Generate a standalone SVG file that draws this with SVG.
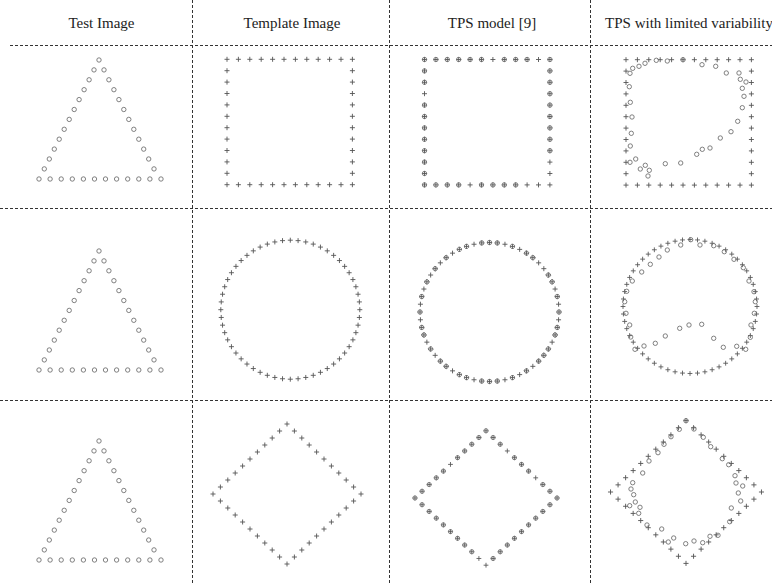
<svg xmlns="http://www.w3.org/2000/svg" xmlns:xlink="http://www.w3.org/1999/xlink" width="772" height="584" viewBox="0 0 772 584">
<style>
.pl{stroke:#555;stroke-width:0.9;fill:none}
.ci{stroke:#6a6a6a;stroke-width:0.85;fill:none}
.gl{stroke:#333;stroke-width:1;stroke-dasharray:3 2;fill:none}
.hd{font-family:"Liberation Serif","Times New Roman",serif;font-size:15px;fill:#222;text-anchor:middle}
</style>
<defs>
<path id="p" class="pl" d="M-2.5 0H2.5M0 -2.5V2.5"/>
<circle id="c" class="ci" r="2.2"/>
<g id="tri">
<use href="#c" x="0" y="0"/>
<use href="#c" x="-5" y="9.9"/><use href="#c" x="-9.9" y="19.8"/><use href="#c" x="-14.9" y="29.7"/><use href="#c" x="-19.9" y="39.6"/><use href="#c" x="-24.8" y="49.5"/><use href="#c" x="-29.8" y="59.4"/><use href="#c" x="-34.8" y="69.3"/><use href="#c" x="-39.8" y="79.2"/><use href="#c" x="-44.7" y="89.1"/><use href="#c" x="-49.7" y="99"/><use href="#c" x="-54.7" y="108.9"/>
<use href="#c" x="5" y="9.9"/><use href="#c" x="9.9" y="19.8"/><use href="#c" x="14.9" y="29.7"/><use href="#c" x="19.9" y="39.6"/><use href="#c" x="24.8" y="49.5"/><use href="#c" x="29.8" y="59.4"/><use href="#c" x="34.8" y="69.3"/><use href="#c" x="39.8" y="79.2"/><use href="#c" x="44.7" y="89.1"/><use href="#c" x="49.7" y="99"/><use href="#c" x="55" y="108.9"/>
<use href="#c" x="-60" y="119"/><use href="#c" x="-48.9" y="119"/><use href="#c" x="-37.8" y="119"/><use href="#c" x="-26.7" y="119"/><use href="#c" x="-15.6" y="119"/><use href="#c" x="-4.5" y="119"/><use href="#c" x="6.5" y="119"/><use href="#c" x="17.6" y="119"/><use href="#c" x="28.7" y="119"/><use href="#c" x="39.8" y="119"/><use href="#c" x="50.9" y="119"/><use href="#c" x="62" y="119"/>
</g>
<g id="sq">
<use href="#p" x="0" y="0"/><use href="#p" x="11.4" y="0"/><use href="#p" x="22.8" y="0"/><use href="#p" x="34.2" y="0"/><use href="#p" x="45.6" y="0"/><use href="#p" x="57" y="0"/><use href="#p" x="68.4" y="0"/><use href="#p" x="79.8" y="0"/><use href="#p" x="91.2" y="0"/><use href="#p" x="102.6" y="0"/><use href="#p" x="114" y="0"/><use href="#p" x="125.4" y="0"/>
<use href="#p" x="0" y="125.4"/><use href="#p" x="11.4" y="125.4"/><use href="#p" x="22.8" y="125.4"/><use href="#p" x="34.2" y="125.4"/><use href="#p" x="45.6" y="125.4"/><use href="#p" x="57" y="125.4"/><use href="#p" x="68.4" y="125.4"/><use href="#p" x="79.8" y="125.4"/><use href="#p" x="91.2" y="125.4"/><use href="#p" x="102.6" y="125.4"/><use href="#p" x="114" y="125.4"/><use href="#p" x="125.4" y="125.4"/>
<use href="#p" x="0" y="11.4"/><use href="#p" x="0" y="22.8"/><use href="#p" x="0" y="34.2"/><use href="#p" x="0" y="45.6"/><use href="#p" x="0" y="57"/><use href="#p" x="0" y="68.4"/><use href="#p" x="0" y="79.8"/><use href="#p" x="0" y="91.2"/><use href="#p" x="0" y="102.6"/><use href="#p" x="0" y="114"/>
<use href="#p" x="125.4" y="11.4"/><use href="#p" x="125.4" y="22.8"/><use href="#p" x="125.4" y="34.2"/><use href="#p" x="125.4" y="45.6"/><use href="#p" x="125.4" y="57"/><use href="#p" x="125.4" y="68.4"/><use href="#p" x="125.4" y="79.8"/><use href="#p" x="125.4" y="91.2"/><use href="#p" x="125.4" y="102.6"/><use href="#p" x="125.4" y="114"/>
</g>
<g id="ring">
<use href="#p" transform="rotate(0) translate(0 -69.5) rotate(0)"/>
<use href="#p" transform="rotate(6.43) translate(0 -69.5) rotate(-6.43)"/>
<use href="#p" transform="rotate(12.86) translate(0 -69.5) rotate(-12.86)"/>
<use href="#p" transform="rotate(19.29) translate(0 -69.5) rotate(-19.29)"/>
<use href="#p" transform="rotate(25.71) translate(0 -69.5) rotate(-25.71)"/>
<use href="#p" transform="rotate(32.14) translate(0 -69.5) rotate(-32.14)"/>
<use href="#p" transform="rotate(38.57) translate(0 -69.5) rotate(-38.57)"/>
<use href="#p" transform="rotate(45) translate(0 -69.5) rotate(-45)"/>
<use href="#p" transform="rotate(51.43) translate(0 -69.5) rotate(-51.43)"/>
<use href="#p" transform="rotate(57.86) translate(0 -69.5) rotate(-57.86)"/>
<use href="#p" transform="rotate(64.29) translate(0 -69.5) rotate(-64.29)"/>
<use href="#p" transform="rotate(70.71) translate(0 -69.5) rotate(-70.71)"/>
<use href="#p" transform="rotate(77.14) translate(0 -69.5) rotate(-77.14)"/>
<use href="#p" transform="rotate(83.57) translate(0 -69.5) rotate(-83.57)"/>
<use href="#p" transform="rotate(90) translate(0 -69.5) rotate(-90)"/>
<use href="#p" transform="rotate(96.43) translate(0 -69.5) rotate(-96.43)"/>
<use href="#p" transform="rotate(102.86) translate(0 -69.5) rotate(-102.86)"/>
<use href="#p" transform="rotate(109.29) translate(0 -69.5) rotate(-109.29)"/>
<use href="#p" transform="rotate(115.71) translate(0 -69.5) rotate(-115.71)"/>
<use href="#p" transform="rotate(122.14) translate(0 -69.5) rotate(-122.14)"/>
<use href="#p" transform="rotate(128.57) translate(0 -69.5) rotate(-128.57)"/>
<use href="#p" transform="rotate(135) translate(0 -69.5) rotate(-135)"/>
<use href="#p" transform="rotate(141.43) translate(0 -69.5) rotate(-141.43)"/>
<use href="#p" transform="rotate(147.86) translate(0 -69.5) rotate(-147.86)"/>
<use href="#p" transform="rotate(154.29) translate(0 -69.5) rotate(-154.29)"/>
<use href="#p" transform="rotate(160.71) translate(0 -69.5) rotate(-160.71)"/>
<use href="#p" transform="rotate(167.14) translate(0 -69.5) rotate(-167.14)"/>
<use href="#p" transform="rotate(173.57) translate(0 -69.5) rotate(-173.57)"/>
<use href="#p" transform="rotate(180) translate(0 -69.5) rotate(-180)"/>
<use href="#p" transform="rotate(186.43) translate(0 -69.5) rotate(-186.43)"/>
<use href="#p" transform="rotate(192.86) translate(0 -69.5) rotate(-192.86)"/>
<use href="#p" transform="rotate(199.29) translate(0 -69.5) rotate(-199.29)"/>
<use href="#p" transform="rotate(205.71) translate(0 -69.5) rotate(-205.71)"/>
<use href="#p" transform="rotate(212.14) translate(0 -69.5) rotate(-212.14)"/>
<use href="#p" transform="rotate(218.57) translate(0 -69.5) rotate(-218.57)"/>
<use href="#p" transform="rotate(225) translate(0 -69.5) rotate(-225)"/>
<use href="#p" transform="rotate(231.43) translate(0 -69.5) rotate(-231.43)"/>
<use href="#p" transform="rotate(237.86) translate(0 -69.5) rotate(-237.86)"/>
<use href="#p" transform="rotate(244.29) translate(0 -69.5) rotate(-244.29)"/>
<use href="#p" transform="rotate(250.71) translate(0 -69.5) rotate(-250.71)"/>
<use href="#p" transform="rotate(257.14) translate(0 -69.5) rotate(-257.14)"/>
<use href="#p" transform="rotate(263.57) translate(0 -69.5) rotate(-263.57)"/>
<use href="#p" transform="rotate(270) translate(0 -69.5) rotate(-270)"/>
<use href="#p" transform="rotate(276.43) translate(0 -69.5) rotate(-276.43)"/>
<use href="#p" transform="rotate(282.86) translate(0 -69.5) rotate(-282.86)"/>
<use href="#p" transform="rotate(289.29) translate(0 -69.5) rotate(-289.29)"/>
<use href="#p" transform="rotate(295.71) translate(0 -69.5) rotate(-295.71)"/>
<use href="#p" transform="rotate(302.14) translate(0 -69.5) rotate(-302.14)"/>
<use href="#p" transform="rotate(308.57) translate(0 -69.5) rotate(-308.57)"/>
<use href="#p" transform="rotate(315) translate(0 -69.5) rotate(-315)"/>
<use href="#p" transform="rotate(321.43) translate(0 -69.5) rotate(-321.43)"/>
<use href="#p" transform="rotate(327.86) translate(0 -69.5) rotate(-327.86)"/>
<use href="#p" transform="rotate(334.29) translate(0 -69.5) rotate(-334.29)"/>
<use href="#p" transform="rotate(340.71) translate(0 -69.5) rotate(-340.71)"/>
<use href="#p" transform="rotate(347.14) translate(0 -69.5) rotate(-347.14)"/>
<use href="#p" transform="rotate(353.57) translate(0 -69.5) rotate(-353.57)"/>
</g>
<g id="dia">
<use href="#p" x="0" y="-70"/><use href="#p" x="7.4" y="-63"/><use href="#p" x="14.8" y="-56"/><use href="#p" x="22.2" y="-49"/><use href="#p" x="29.6" y="-42"/><use href="#p" x="37" y="-35"/><use href="#p" x="44.4" y="-28"/><use href="#p" x="51.8" y="-21"/><use href="#p" x="59.2" y="-14"/><use href="#p" x="66.6" y="-7"/>
<use href="#p" x="74" y="0"/><use href="#p" x="66.6" y="7"/><use href="#p" x="59.2" y="14"/><use href="#p" x="51.8" y="21"/><use href="#p" x="44.4" y="28"/><use href="#p" x="37" y="35"/><use href="#p" x="29.6" y="42"/><use href="#p" x="22.2" y="49"/><use href="#p" x="14.8" y="56"/><use href="#p" x="7.4" y="63"/>
<use href="#p" x="0" y="70"/><use href="#p" x="-7.4" y="63"/><use href="#p" x="-14.8" y="56"/><use href="#p" x="-22.2" y="49"/><use href="#p" x="-29.6" y="42"/><use href="#p" x="-37" y="35"/><use href="#p" x="-44.4" y="28"/><use href="#p" x="-51.8" y="21"/><use href="#p" x="-59.2" y="14"/><use href="#p" x="-66.6" y="7"/>
<use href="#p" x="-74" y="0"/><use href="#p" x="-66.6" y="-7"/><use href="#p" x="-59.2" y="-14"/><use href="#p" x="-51.8" y="-21"/><use href="#p" x="-44.4" y="-28"/><use href="#p" x="-37" y="-35"/><use href="#p" x="-29.6" y="-42"/><use href="#p" x="-22.2" y="-49"/><use href="#p" x="-14.8" y="-56"/><use href="#p" x="-7.4" y="-63"/>
</g>
</defs>
<rect width="772" height="584" fill="#fff"/>

<g id="grid">
<line class="gl" x1="10" y1="45.5" x2="772" y2="45.5"/>
<line class="gl" x1="0" y1="208.5" x2="772" y2="208.5"/>
<line class="gl" x1="0" y1="400.5" x2="772" y2="400.5"/>
<line class="gl" x1="192.5" y1="0" x2="192.5" y2="584"/>
<line class="gl" x1="389.5" y1="0" x2="389.5" y2="584"/>
<line class="gl" x1="590.5" y1="0" x2="590.5" y2="584"/>
</g>

<g id="headers">
<text class="hd" x="101.5" y="28">Test Image</text>
<text class="hd" x="292" y="28">Template Image</text>
<text class="hd" x="492" y="28">TPS model [9]</text>
<text class="hd" x="689" y="28">TPS with limited variability</text>
</g>

<g id="test-1"><use href="#tri" transform="translate(99 60)"/></g>
<g id="test-2"><use href="#tri" transform="translate(99 251)"/></g>
<g id="test-3"><use href="#tri" transform="translate(99 441)"/></g>

<g id="template-1"><use href="#sq" transform="translate(227 59.3)"/></g>
<g id="template-2"><use href="#ring" transform="translate(290.3 309.7)"/></g>
<g id="template-3"><use href="#dia" transform="translate(287 494)"/></g>

<g id="tps-1" transform="translate(424.5 59.5)">
<use href="#sq"/>
<use href="#c" x="0" y="0"/><use href="#c" x="11.4" y="0"/><use href="#c" x="22.8" y="0"/><use href="#c" x="34.2" y="0"/><use href="#c" x="45.6" y="0"/><use href="#c" x="57" y="0"/><use href="#c" x="79.8" y="0"/><use href="#c" x="91.2" y="0"/><use href="#c" x="102.6" y="0"/><use href="#c" x="125.4" y="0"/>
<use href="#c" x="0" y="11.4"/><use href="#c" x="0" y="22.8"/><use href="#c" x="0" y="45.6"/><use href="#c" x="0" y="57"/><use href="#c" x="0" y="68.4"/><use href="#c" x="0" y="79.8"/><use href="#c" x="0" y="91.2"/><use href="#c" x="0" y="102.6"/><use href="#c" x="0" y="114"/>
<use href="#c" x="125.4" y="11.4"/><use href="#c" x="125.4" y="22.8"/><use href="#c" x="125.4" y="34.2"/><use href="#c" x="125.4" y="45.6"/><use href="#c" x="125.4" y="57"/><use href="#c" x="125.4" y="68.4"/><use href="#c" x="125.4" y="79.8"/><use href="#c" x="125.4" y="91.2"/>
<use href="#c" x="0" y="125.4"/><use href="#c" x="11.4" y="125.4"/><use href="#c" x="22.8" y="125.4"/><use href="#c" x="34.2" y="125.4"/><use href="#c" x="57" y="125.4"/><use href="#c" x="68.4" y="125.4"/><use href="#c" x="79.8" y="125.4"/><use href="#c" x="91.2" y="125.4"/>
</g>

<g id="tps-2" transform="translate(489.5 312)">
<use href="#ring"/>
<use href="#c" transform="rotate(0) translate(0 -69.5)"/>
<use href="#c" transform="rotate(6.43) translate(0 -69.5)"/>
<use href="#c" transform="rotate(19.29) translate(0 -69.5)"/>
<use href="#c" transform="rotate(32.14) translate(0 -69.5)"/>
<use href="#c" transform="rotate(38.57) translate(0 -69.5)"/>
<use href="#c" transform="rotate(57.86) translate(0 -69.5)"/>
<use href="#c" transform="rotate(64.29) translate(0 -69.5)"/>
<use href="#c" transform="rotate(77.14) translate(0 -69.5)"/>
<use href="#c" transform="rotate(90) translate(0 -69.5)"/>
<use href="#c" transform="rotate(102.86) translate(0 -69.5)"/>
<use href="#c" transform="rotate(109.29) translate(0 -69.5)"/>
<use href="#c" transform="rotate(122.14) translate(0 -69.5)"/>
<use href="#c" transform="rotate(128.57) translate(0 -69.5)"/>
<use href="#c" transform="rotate(135) translate(0 -69.5)"/>
<use href="#c" transform="rotate(147.86) translate(0 -69.5)"/>
<use href="#c" transform="rotate(160.71) translate(0 -69.5)"/>
<use href="#c" transform="rotate(173.57) translate(0 -69.5)"/>
<use href="#c" transform="rotate(180) translate(0 -69.5)"/>
<use href="#c" transform="rotate(186.43) translate(0 -69.5)"/>
<use href="#c" transform="rotate(199.29) translate(0 -69.5)"/>
<use href="#c" transform="rotate(205.71) translate(0 -69.5)"/>
<use href="#c" transform="rotate(218.57) translate(0 -69.5)"/>
<use href="#c" transform="rotate(225) translate(0 -69.5)"/>
<use href="#c" transform="rotate(237.86) translate(0 -69.5)"/>
<use href="#c" transform="rotate(250.71) translate(0 -69.5)"/>
<use href="#c" transform="rotate(257.14) translate(0 -69.5)"/>
<use href="#c" transform="rotate(270) translate(0 -69.5)"/>
<use href="#c" transform="rotate(282.86) translate(0 -69.5)"/>
<use href="#c" transform="rotate(295.71) translate(0 -69.5)"/>
<use href="#c" transform="rotate(308.57) translate(0 -69.5)"/>
<use href="#c" transform="rotate(321.43) translate(0 -69.5)"/>
<use href="#c" transform="rotate(334.29) translate(0 -69.5)"/>
<use href="#c" transform="rotate(340.71) translate(0 -69.5)"/>
<use href="#c" transform="rotate(353.57) translate(0 -69.5)"/>
</g>

<g id="tps-3" transform="translate(486 498) scale(0.96)">
<use href="#dia"/>
<use href="#c" x="0" y="-70"/><use href="#c" x="7.4" y="-63"/><use href="#c" x="14.8" y="-56"/><use href="#c" x="29.6" y="-42"/><use href="#c" x="37" y="-35"/><use href="#c" x="44.4" y="-28"/><use href="#c" x="59.2" y="-14"/><use href="#c" x="66.6" y="-7"/>
<use href="#c" x="74" y="0"/><use href="#c" x="66.6" y="7"/><use href="#c" x="59.2" y="14"/><use href="#c" x="51.8" y="21"/><use href="#c" x="44.4" y="28"/><use href="#c" x="37" y="35"/><use href="#c" x="29.6" y="42"/><use href="#c" x="22.2" y="49"/><use href="#c" x="14.8" y="56"/><use href="#c" x="7.4" y="63"/>
<use href="#c" x="-14.8" y="56"/><use href="#c" x="-22.2" y="49"/><use href="#c" x="-29.6" y="42"/><use href="#c" x="-37" y="35"/><use href="#c" x="-44.4" y="28"/><use href="#c" x="-51.8" y="21"/><use href="#c" x="-59.2" y="14"/><use href="#c" x="-66.6" y="7"/>
<use href="#c" x="-74" y="0"/><use href="#c" x="-66.6" y="-7"/><use href="#c" x="-59.2" y="-14"/><use href="#c" x="-51.8" y="-21"/><use href="#c" x="-44.4" y="-28"/><use href="#c" x="-29.6" y="-42"/><use href="#c" x="-22.2" y="-49"/><use href="#c" x="-14.8" y="-56"/><use href="#c" x="-7.4" y="-63"/>
</g>

<g id="limited-1">
<use href="#sq" transform="translate(626 59.7)"/>
<use href="#c" x="630" y="73.3"/><use href="#c" x="632.7" y="68.3"/><use href="#c" x="639" y="66.3"/><use href="#c" x="645" y="63.3"/><use href="#c" x="656.3" y="60.3"/><use href="#c" x="667.3" y="61"/><use href="#c" x="683" y="59.7"/><use href="#c" x="702" y="64.7"/><use href="#c" x="715.7" y="66.3"/><use href="#c" x="726.3" y="73"/><use href="#c" x="739" y="73"/><use href="#c" x="740.3" y="79.3"/><use href="#c" x="746" y="82"/><use href="#c" x="742.3" y="88.3"/><use href="#c" x="744" y="96.3"/><use href="#c" x="742.3" y="107.7"/><use href="#c" x="737.7" y="121.3"/><use href="#c" x="731" y="131.7"/><use href="#c" x="720.3" y="138"/><use href="#c" x="710" y="148"/><use href="#c" x="702.3" y="149.3"/><use href="#c" x="696.7" y="154.3"/><use href="#c" x="680.7" y="163"/><use href="#c" x="665.3" y="163.7"/><use href="#c" x="649.3" y="170.3"/><use href="#c" x="648" y="176"/><use href="#c" x="645.3" y="165.3"/><use href="#c" x="640.3" y="169"/><use href="#c" x="635.7" y="159"/><use href="#c" x="630" y="162.3"/><use href="#c" x="630.3" y="146"/><use href="#c" x="631.3" y="133.3"/><use href="#c" x="632" y="117"/><use href="#c" x="630.3" y="102.3"/><use href="#c" x="629.3" y="86.7"/>
</g>

<g id="limited-2">
<use href="#ring" transform="translate(690 306.5) scale(0.964)"/>
<use href="#c" x="690.7" y="239.7"/><use href="#c" x="680.7" y="245"/><use href="#c" x="667.3" y="250"/><use href="#c" x="659" y="257"/><use href="#c" x="650.3" y="264.3"/><use href="#c" x="641.7" y="272"/><use href="#c" x="632.3" y="281"/><use href="#c" x="626.7" y="291.3"/><use href="#c" x="624.7" y="301.7"/><use href="#c" x="626" y="313.3"/><use href="#c" x="629.7" y="325"/><use href="#c" x="630.7" y="337"/><use href="#c" x="635" y="349.3"/><use href="#c" x="644" y="346"/><use href="#c" x="655.3" y="343.3"/><use href="#c" x="665.3" y="336"/><use href="#c" x="679.7" y="328.3"/><use href="#c" x="689" y="325"/><use href="#c" x="701.7" y="324.3"/><use href="#c" x="713.7" y="338.3"/><use href="#c" x="723.3" y="347.3"/><use href="#c" x="736.7" y="346.3"/><use href="#c" x="745.7" y="349.3"/><use href="#c" x="750.3" y="337.3"/><use href="#c" x="751" y="325"/><use href="#c" x="754.3" y="313.3"/><use href="#c" x="755.3" y="301.7"/><use href="#c" x="754" y="291.7"/><use href="#c" x="749" y="281"/><use href="#c" x="743.3" y="267.7"/><use href="#c" x="734" y="259.3"/><use href="#c" x="724.3" y="251.7"/><use href="#c" x="713.7" y="245.7"/><use href="#c" x="700" y="245"/>
</g>

<g id="limited-3">
<use href="#dia" transform="translate(686 492) scale(1.02)"/>
<use href="#c" x="686" y="420.7"/><use href="#c" x="679.3" y="429.3"/><use href="#c" x="694" y="429"/><use href="#c" x="671" y="436.7"/><use href="#c" x="664" y="444.3"/><use href="#c" x="703.3" y="437.3"/><use href="#c" x="710.7" y="446.7"/><use href="#c" x="722.3" y="458.7"/><use href="#c" x="728.7" y="464.7"/><use href="#c" x="658" y="452.7"/><use href="#c" x="649" y="461"/><use href="#c" x="642.7" y="473"/><use href="#c" x="735" y="475.7"/><use href="#c" x="736" y="483"/><use href="#c" x="742.7" y="486"/><use href="#c" x="738.3" y="493"/><use href="#c" x="740.7" y="501"/><use href="#c" x="731.3" y="508"/><use href="#c" x="729.7" y="521.7"/><use href="#c" x="718" y="535.3"/><use href="#c" x="710" y="536.3"/><use href="#c" x="702.7" y="542.7"/><use href="#c" x="694" y="541"/><use href="#c" x="685.7" y="543.7"/><use href="#c" x="673.7" y="538"/><use href="#c" x="668.3" y="542"/><use href="#c" x="661.7" y="529"/><use href="#c" x="647" y="525"/><use href="#c" x="638.7" y="513.3"/><use href="#c" x="640" y="507.3"/><use href="#c" x="635.3" y="502"/><use href="#c" x="629.7" y="505.7"/><use href="#c" x="633.7" y="494.7"/><use href="#c" x="631" y="489"/><use href="#c" x="632.7" y="482.7"/>
</g>
</svg>
